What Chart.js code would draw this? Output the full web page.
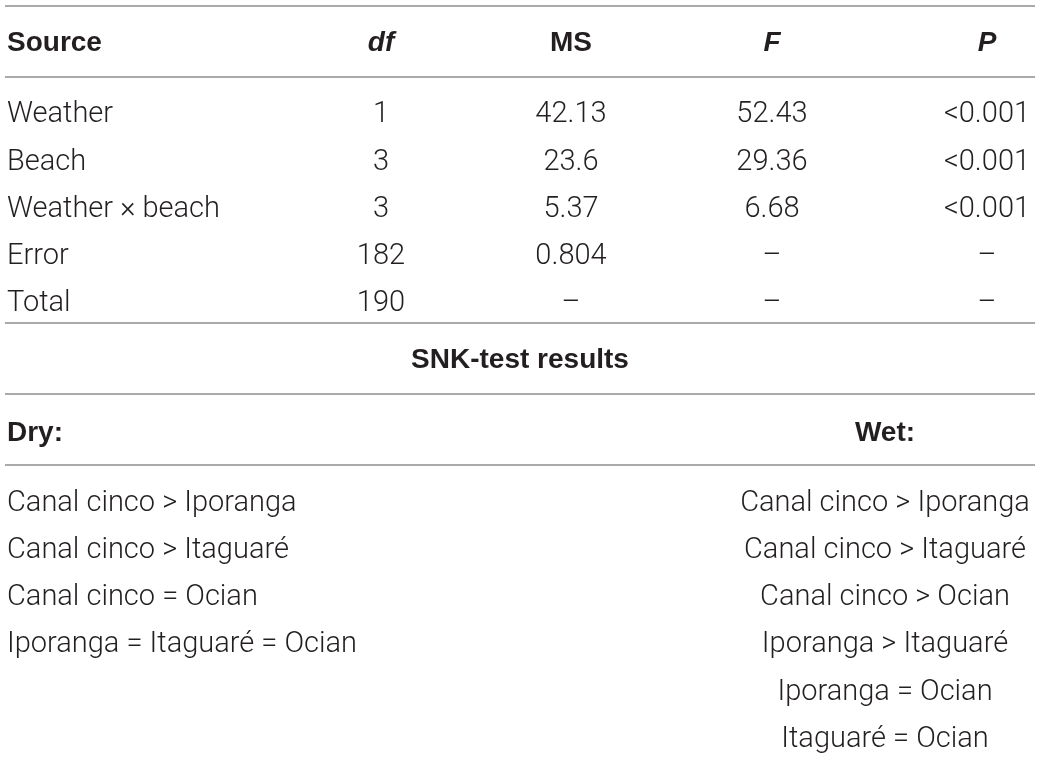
<!DOCTYPE html>
<html>
<head>
<meta charset="utf-8">
<script src="https://cdn.jsdelivr.net/npm/chart.js@4.4.1/dist/chart.umd.min.js"></script>
<style>
  html, body { margin: 0; padding: 0; background: #fff; }
  #table { display: block; }
</style>
</head>
<body>
<canvas id="table" width="1040" height="758"></canvas>
<script>
// table contents
const headers = ['Source', 'df', 'MS', 'F', 'P'];
const sources = ['Weather', 'Beach', 'Weather \u00d7 beach', 'Error', 'Total'];
const dfValues = ['1', '3', '3', '182', '190'];
const msValues = ['42.13', '23.6', '5.37', '0.804', '\u2013'];
const fValues = ['52.43', '29.36', '6.68', '\u2013', '\u2013'];
const pValues = ['<0.001', '<0.001', '<0.001', '\u2013', '\u2013'];
const snkTitle = 'SNK-test results';
const dryTitle = 'Dry:';
const wetTitle = 'Wet:';
const dryResults = [
    'Canal cinco > Iporanga',
    'Canal cinco > Itaguar\u00e9',
    'Canal cinco = Ocian',
    'Iporanga = Itaguar\u00e9 = Ocian',
];
const wetResults = [
    'Canal cinco > Iporanga',
    'Canal cinco > Itaguar\u00e9',
    'Canal cinco > Ocian',
    'Iporanga > Itaguar\u00e9',
    'Iporanga = Ocian',
    'Itaguar\u00e9 = Ocian',
];

// layout (in scale units = px of the table)
const colX = [7, 381, 571, 772, 987];
const headerY = 41;
const rowY = [112, 160, 207, 254, 301];
const snkY = 358;
const groupY = 431;
const resultY = [501, 548, 595, 642, 690, 737];
const wetX = 885;
const ruleY = [6, 77, 323, 394, 465];

const LIGHT_FONT = '300 29px Roboto, "Liberation Sans", Arial, sans-serif';
const BOLD_FAMILY = '28px "Liberation Sans", Arial, sans-serif';
const TEXT_COLOR = '#231f20';
const RULE_COLOR = '#aaaaaa';

const columns = [sources, dfValues, msValues, fValues, pValues];
const headerStyle = ['bold', 'italic bold', 'bold', 'italic bold', 'italic bold'];

const textSets = [];
headers.forEach((h, i) => {
    textSets.push({ data: [{ x: colX[i], y: headerY, text: h }], font: headerStyle[i] + ' ' + BOLD_FAMILY, align: i === 0 ? 'left' : 'center' });
});
columns.forEach((col, i) => {
    textSets.push({ data: col.map((t, r) => ({ x: colX[i], y: rowY[r], text: t })), font: LIGHT_FONT, align: i === 0 ? 'left' : 'center' });
});
textSets.push({ data: [{ x: 520, y: snkY, text: snkTitle }], font: 'bold ' + BOLD_FAMILY, align: 'center' });
textSets.push({ data: [{ x: colX[0], y: groupY, text: dryTitle }], font: 'bold ' + BOLD_FAMILY, align: 'left' });
textSets.push({ data: [{ x: wetX, y: groupY, text: wetTitle }], font: 'bold ' + BOLD_FAMILY, align: 'center' });
textSets.push({ data: dryResults.map((t, r) => ({ x: colX[0], y: resultY[r], text: t })), font: LIGHT_FONT, align: 'left' });
textSets.push({ data: wetResults.map((t, r) => ({ x: wetX, y: resultY[r], text: t })), font: LIGHT_FONT, align: 'center' });

const datasets = [];
ruleY.forEach(y => {
    datasets.push({
        type: 'line',
        data: [{ x: 5, y: y }, { x: 1035, y: y }],
        borderColor: RULE_COLOR,
        borderWidth: 2,
        pointRadius: 0,
        fill: false,
    });
});
textSets.forEach(s => {
    datasets.push({
        type: 'scatter',
        data: s.data,
        pointRadius: 0,
        cellText: true,
        cellFont: s.font,
        cellAlign: s.align,
    });
});

const cellTextPlugin = {
    id: 'cellText',
    afterDatasetsDraw(chart) {
        const ctx = chart.ctx;
        ctx.save();
        ctx.fillStyle = TEXT_COLOR;
        ctx.textBaseline = 'alphabetic';
        chart.data.datasets.forEach((ds, di) => {
            if (!ds.cellText) return;
            const meta = chart.getDatasetMeta(di);
            ctx.font = ds.cellFont;
            ctx.textAlign = ds.cellAlign;
            meta.data.forEach((el, i) => {
                // baseline sits about half a cap height below the row centre
                ctx.fillText(ds.data[i].text, el.x, el.y + 10);
            });
        });
        ctx.restore();
    },
};

new Chart(document.getElementById('table'), {
    type: 'scatter',
    data: { datasets: datasets },
    options: {
        responsive: false,
        animation: false,
        devicePixelRatio: 1,
        layout: { padding: 0 },
        scales: {
            x: { type: 'linear', min: 0, max: 1040, display: false },
            y: { type: 'linear', min: 0, max: 758, reverse: true, display: false },
        },
        plugins: {
            legend: { display: false },
            tooltip: { enabled: false },
        },
        events: [],
    },
    plugins: [cellTextPlugin],
});
</script>
</body>
</html>
